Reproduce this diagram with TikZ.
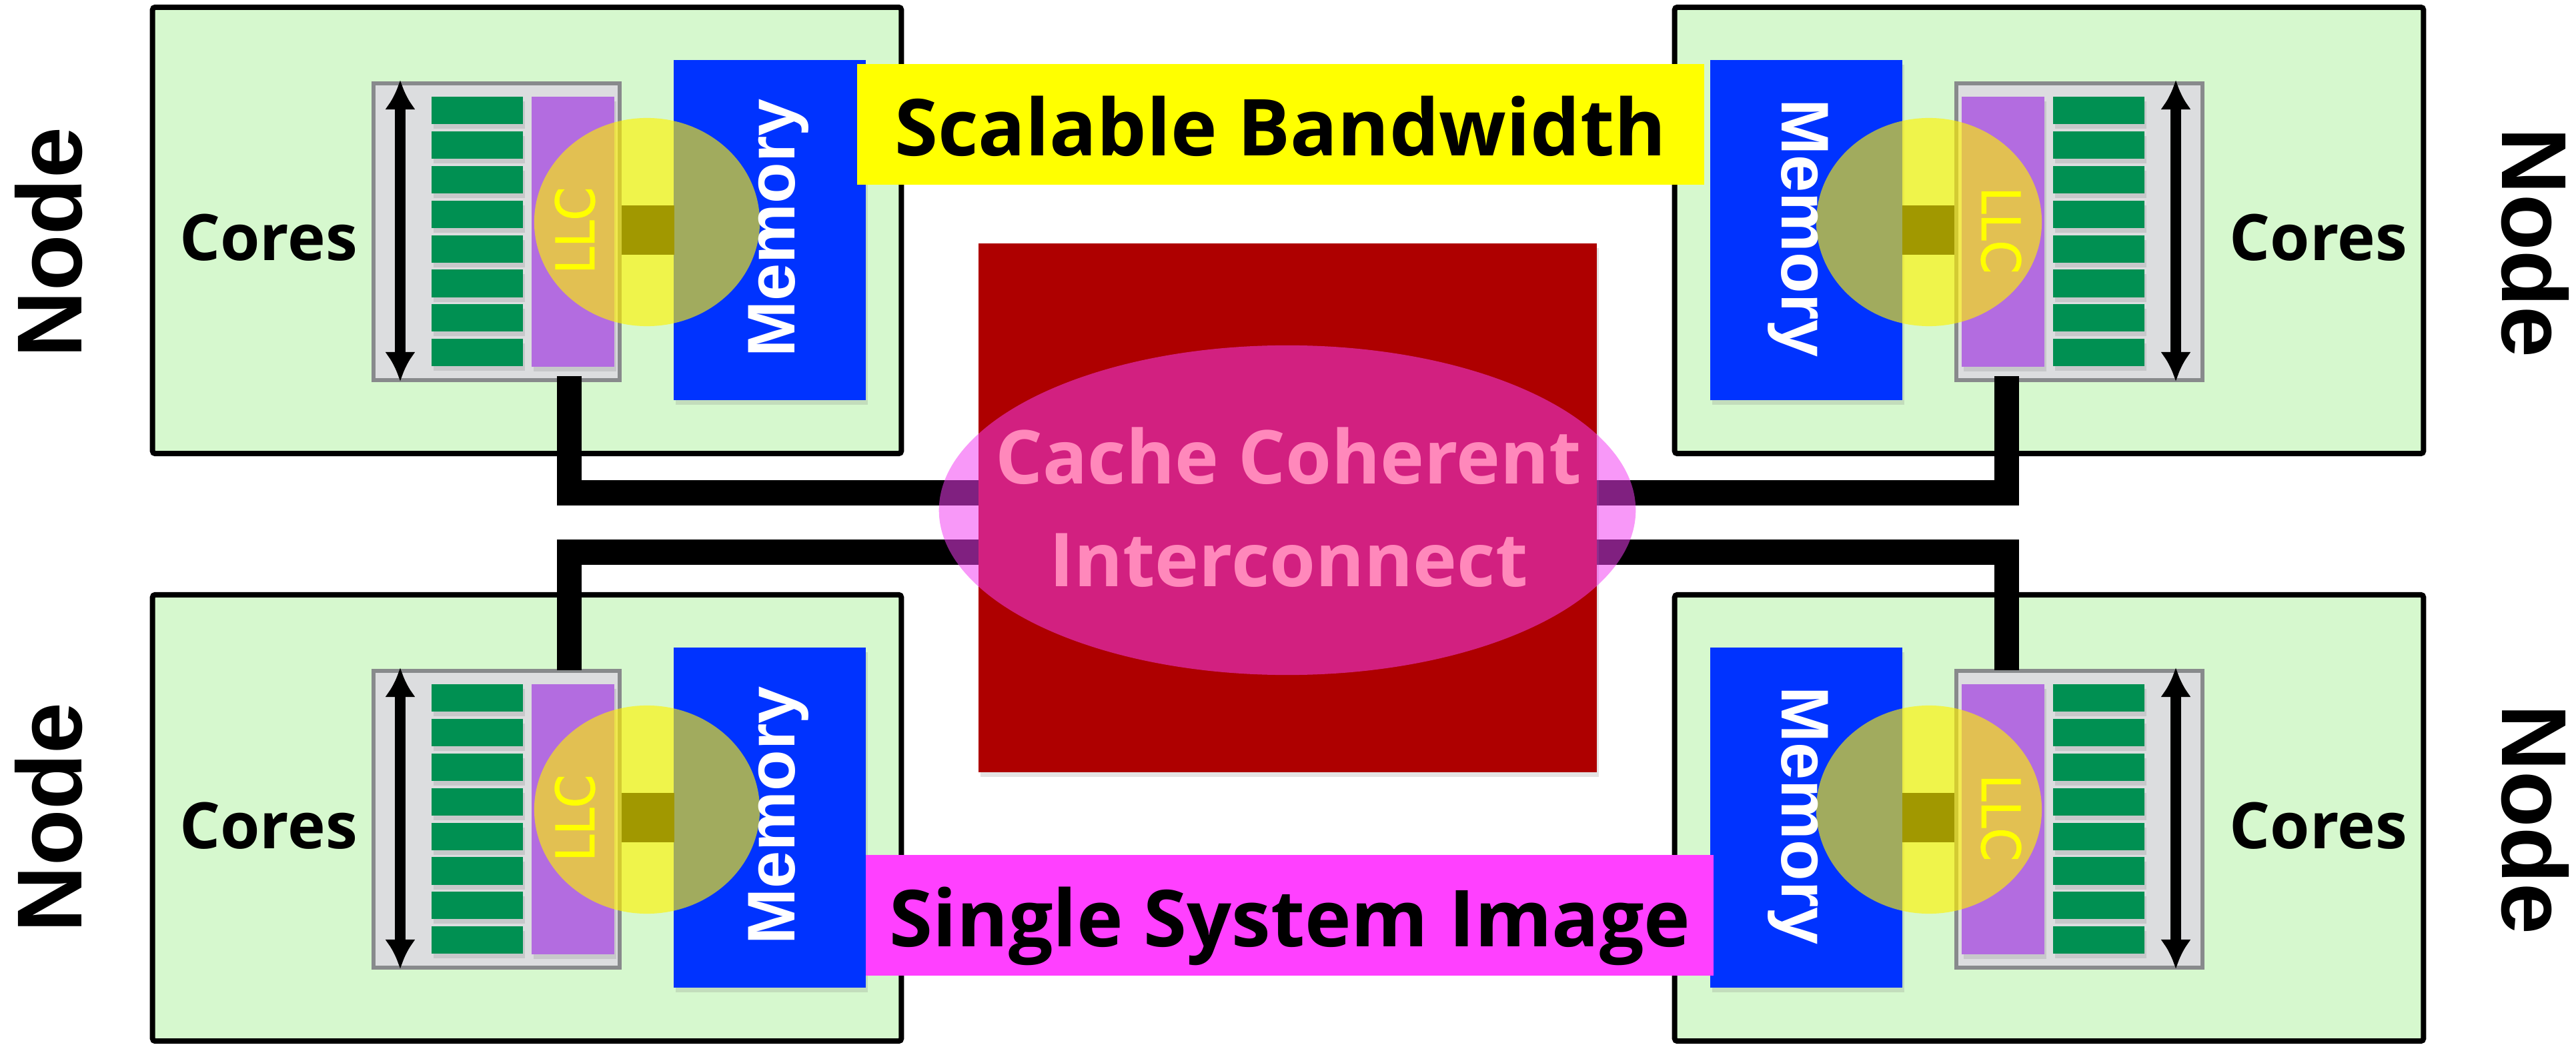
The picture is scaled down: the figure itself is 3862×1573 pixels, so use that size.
\documentclass[tikz,border=0pt]{standalone}
\usepackage{fontspec}
\usetikzlibrary{arrows.meta,shapes.geometric,shadows}
\newfontfamily\osans{Open Sans}
\newfontfamily\lsans{Liberation Sans}
\newfontfamily\dvsans{DejaVu Sans}[FakeStretch=0.9, FakeBold=1.2]
\definecolor{nodegreen}{RGB}{214,248,206}
\definecolor{cpugray}{RGB}{220,221,223}
\definecolor{cpuline}{RGB}{136,138,140}
\definecolor{coregreen}{RGB}{0,144,82}
\definecolor{llcpurple}{RGB}{179,108,224}
\definecolor{memblue}{RGB}{0,51,255}
\definecolor{icnred}{RGB}{174,0,0}
\definecolor{icnpink}{RGB}{242,61,242}
\definecolor{icntext}{RGB}{255,136,187}
\definecolor{bwyellow}{RGB}{255,255,0}
\definecolor{ssimagenta}{RGB}{255,64,255}
\tikzset{
  shad/.style={drop shadow={opacity=0.22, shadow xshift=0.03cm, shadow yshift=-0.07cm}},
  nodebox/.style={draw=black, line width=0.08cm, fill=nodegreen, rounded corners=0.04cm, inner sep=0pt, outer sep=0pt},
  cpubox/.style={draw=cpuline, line width=0.065cm, fill=cpugray, inner sep=0pt, outer sep=0pt},
  core/.style={fill=coregreen, inner sep=0pt, minimum width=1.37cm, minimum height=0.41cm, shad},
  llcbox/.style={fill=llcpurple, inner sep=0pt, minimum width=1.24cm, minimum height=4.05cm, shad},
  membox/.style={fill=memblue, inner sep=0pt, minimum width=2.88cm, minimum height=5.10cm, shad},
  linkbar/.style={fill=black, inner sep=0pt, minimum width=0.78cm, minimum height=0.74cm},
  hot/.style={ellipse, fill=yellow, fill opacity=0.63, inner sep=0pt, minimum width=3.38cm, minimum height=3.12cm},
  corearrow/.style={line width=0.16cm, {Latex[length=0.44cm,width=0.46cm]}-{Latex[length=0.44cm,width=0.46cm]}},
  bus/.style={line width=0.37cm, line join=miter, line cap=butt},
  nodelabel/.style={font=\lsans\bfseries\fontsize{39.3}{42}\selectfont, anchor=base, inner sep=0pt},
  memtext/.style={font=\lsans\bfseries\fontsize{28.7}{30}\selectfont, text=white, anchor=base, inner sep=0pt},
  llctext/.style={font=\dvsans\fontsize{22.7}{24}\selectfont, text=bwyellow, anchor=base, inner sep=0pt},
  corestext/.style={font=\osans\bfseries\fontsize{27.3}{30}\selectfont, anchor=base, inner sep=0pt},
  bannertext/.style={font=\osans\bfseries\fontsize{33.5}{36}\selectfont, anchor=base, inner sep=0pt},
}
% #1 name prefix, #2 scope options, #3 text rotation, #4 local x of the Cores label
\newcommand\nodeblock[4]{%
\begin{scope}[#2]
  \node[nodebox, minimum width=11.22cm, minimum height=6.69cm] (#1box) at (790,345.5) {};
  \node[cpubox, minimum width=3.69cm, minimum height=4.45cm] (#1cpu) at (744.5,347.5) {};
  \coordinate (#1arrtop) at (600,120);
  \coordinate (#1arrbot) at (600,572);
  \draw[corearrow] (#1arrtop) -- (#1arrbot);
  \foreach \i in {0,...,7}{\node[core] (#1core\i) at (715.5,165.5+51.9*\i) {};}
  \node[llcbox] (#1llc) at (859,347.5) {};
  \node[membox] (#1mem) at (1154,345) {};
  \node[linkbar] (#1link) at (971.5,345) {};
  \node[hot] (#1hot) at (970,333) {};
  \node[llctext, rotate=#3] (#1llct) at (891,345.5) {LLC};
  \node[memtext, rotate=#3] (#1memt) at (1191,342) {Memory};
  \node[corestext] (#1corest) at (#4,391) {Cores};
  \coordinate (#1down) at (853.5,564);
  \coordinate (#1up) at (853.5,124);
\end{scope}}
\begin{document}
\begin{tikzpicture}[x=0.01cm, y=-0.01cm]
  \useasboundingbox[fill=white] (0,0) rectangle (3862,1573);
  \nodeblock{tl}{}{90}{402.5}
  \nodeblock{tr}{shift={(3862,0)}, xscale=-1}{-90}{386}
  \nodeblock{bl}{shift={(0,881)}}{90}{402.5}
  \nodeblock{br}{shift={(3862,881)}, xscale=-1}{-90}{386}
  \node[nodelabel, rotate=90] (tlname) at (123,363.5) {Node};
  \node[nodelabel, rotate=-90] (trname) at (3751,364) {Node};
  \node[nodelabel, rotate=90] (blname) at (123,1226) {Node};
  \node[nodelabel, rotate=-90] (brname) at (3751,1229) {Node};
  % interconnect buses
  \coordinate (bustop) at (0,739);
  \coordinate (busbot) at (0,828);
  \draw[bus] (tldown) -- (tldown |- bustop) -- (trdown |- bustop) -- (trdown);
  \draw[bus] (blup) -- (blup |- busbot) -- (brup |- busbot) -- (brup);
  % interconnect
  \node[fill=icnred, inner sep=0pt, minimum width=9.27cm, minimum height=7.93cm, shad] (icn) at (1930.5,761.5) {};
  \node[ellipse, fill=icnpink, fill opacity=0.53, inner sep=0pt, minimum width=10.44cm, minimum height=4.94cm] (icnell) at (1930,765) {};
  \node[font=\osans\bfseries\fontsize{31.7}{43.8}\selectfont, text=icntext, align=center, inner sep=0pt] (icnlabel) at (1932,760.5) {Cache Coherent\\Interconnect};
  % banners
  \node[fill=bwyellow, inner sep=0pt, minimum width=12.70cm, minimum height=1.81cm] (bw) at (1920,186.5) {};
  \node[bannertext] (bwtext) at (1919.5,234) {Scalable Bandwidth};
  \node[fill=ssimagenta, inner sep=0pt, minimum width=12.71cm, minimum height=1.81cm] (ssi) at (1933.5,1372.5) {};
  \node[bannertext] (ssitext) at (1934,1419) {Single System Image};
\end{tikzpicture}
\end{document}
